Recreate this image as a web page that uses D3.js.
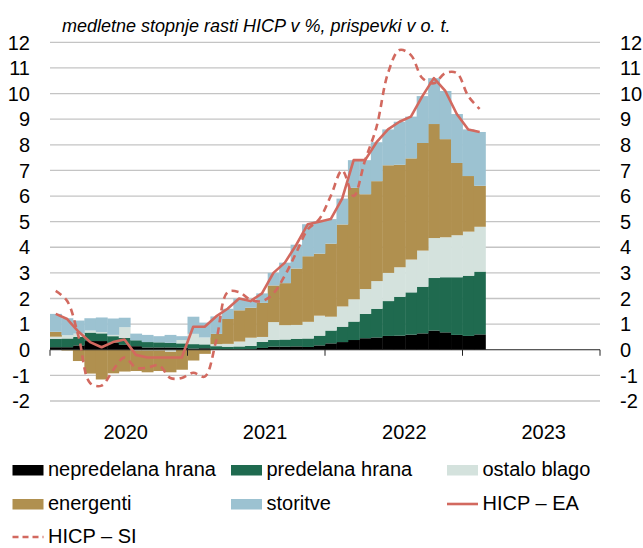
<!DOCTYPE html>
<html>
<head>
<meta charset="utf-8">
<script src="https://cdn.jsdelivr.net/npm/d3@7"></script>
<style>
  body { margin: 0; background: #fff; }
  svg { font-family: "Liberation Sans", Arial, sans-serif; }
</style>
</head>
<body>
<div id="chart"></div>
<script>
// mesecni podatki jan 2020 - feb 2023, prispevki v o. t.
var years = ["2020", "2021", "2022", "2023"];
var yTicks = [-2, -1, 0, 1, 2, 3, 4, 5, 6, 7, 8, 9, 10, 11, 12];

var nepredelana = [0.10,0.10,0.17,0.34,0.34,0.27,0.19,0.14,0.09,0.09,0.09,0.08,
  0.05,0.06,0.01,0.00,0.01,0.02,0.07,0.12,0.12,0.13,0.11,0.17,
  0.25,0.30,0.38,0.45,0.48,0.54,0.55,0.59,0.64,0.75,0.68,0.58,
  0.54,0.60];
var predelana = [0.33,0.34,0.33,0.33,0.30,0.26,0.27,0.23,0.21,0.20,0.18,0.17,
  0.17,0.15,0.13,0.12,0.12,0.13,0.24,0.26,0.28,0.30,0.33,0.38,
  0.50,0.60,0.72,0.95,1.12,1.36,1.52,1.65,1.82,2.05,2.15,2.25,
  2.35,2.45];
var ostalo = [0.08,0.13,0.13,0.08,0.05,0.05,0.42,-0.03,-0.03,-0.03,-0.08,0.13,
  0.40,0.27,0.08,0.11,0.19,0.32,0.19,0.70,0.56,0.54,0.65,0.78,
  0.54,0.79,0.87,0.97,1.08,1.10,1.15,1.28,1.41,1.56,1.56,1.64,
  1.72,1.75];
var energenti = [0.19,-0.03,-0.44,-0.93,-1.16,-0.92,-0.85,-0.80,-0.85,-0.80,-0.80,-0.78,
  -0.42,-0.16,0.40,0.97,1.22,1.17,1.33,1.43,1.64,2.20,2.56,2.42,
  2.85,3.20,4.35,3.70,3.90,4.20,4.00,3.95,4.20,4.45,3.83,2.82,
  2.17,1.60];
var storitve = [0.70,0.66,0.51,0.48,0.57,0.64,0.37,0.26,0.28,0.24,0.31,0.15,
  0.67,0.58,0.68,0.40,0.46,0.26,0.37,0.49,0.80,0.93,1.25,1.25,
  0.96,1.01,1.08,1.33,1.52,1.40,1.68,1.63,1.83,1.79,1.88,1.91,
  1.82,2.10];
var hicpEA = [1.4,1.2,0.7,0.3,0.1,0.3,0.4,-0.2,-0.3,-0.3,-0.3,-0.3,
  0.9,0.9,1.3,1.6,2.0,1.9,2.2,3.0,3.4,4.1,4.9,5.0,
  5.1,5.9,7.4,7.4,8.1,8.6,8.9,9.1,9.9,10.6,10.1,9.2,
  8.6,8.5];
var hicpSI = [2.3,1.9,0.5,-1.3,-1.4,-0.8,-0.3,-0.7,-0.7,-0.6,-1.1,-1.1,
  -0.9,-1.05,0.35,2.25,2.25,1.95,1.9,2.2,2.9,3.8,4.7,5.1,
  6.0,7.0,6.0,7.4,8.7,10.8,11.7,11.5,10.6,10.4,10.8,10.8,
  9.9,9.4];

var keys = ["nepredelana", "predelana", "ostalo", "energenti", "storitve"];
var names = {nepredelana: "nepredelana hrana", predelana: "predelana hrana",
  ostalo: "ostalo blago", energenti: "energenti", storitve: "storitve"};
var colors = {nepredelana: "#000000", predelana: "#1f6a4f", ostalo: "#d4e2dd",
  energenti: "#b0904f", storitve: "#9cc2d1"};
var lineColor = "#d2695f";

var width = 643,
    height = 548;

var rows = hicpEA.map(function(v, i) {
  return {i: i, nepredelana: nepredelana[i], predelana: predelana[i], ostalo: ostalo[i],
    energenti: energenti[i], storitve: storitve[i], ea: v, si: hicpSI[i]};
});

var svg = d3.select("#chart")
  .append("svg")
    .attr("width", width)
    .attr("height", height);

var x = d3.scaleBand()
  .domain(d3.range(years.length * 12))
  .range([50, 600])
  .padding(0);

var y = d3.scaleLinear()
  .domain([-2, 12])
  .range([401, 42.3]);

// mreza
svg.append("g")
  .selectAll("line")
  .data(yTicks.filter(function(d){ return d !== 0; }))
  .enter()
  .append("line")
    .attr("x1", 50)
    .attr("x2", 600)
    .attr("y1", function(d){ return y(d); })
    .attr("y2", function(d){ return y(d); })
    .attr("stroke", "#c4c4c4")
    .attr("stroke-width", 1.3);

// stolpci
var series = d3.stack()
  .keys(keys)
  .offset(d3.stackOffsetDiverging)(rows);

svg.append("g")
  .selectAll("g")
  .data(series)
  .enter()
  .append("g")
    .attr("fill", function(d){ return colors[d.key]; })
  .selectAll("rect")
  .data(function(d){ return d; })
  .enter()
  .append("rect")
    .attr("x", function(d){ return x(d.data.i); })
    .attr("width", x.bandwidth() + 0.4)
    .attr("y", function(d){ return y(Math.max(d[0], d[1])); })
    .attr("height", function(d){ return Math.abs(y(d[0]) - y(d[1])); });

// os x
var y0 = y(0);
svg.append("line")
  .attr("x1", 50).attr("x2", 600)
  .attr("y1", y0).attr("y2", y0)
  .attr("stroke", "#222")
  .attr("stroke-width", 1);

svg.append("g")
  .selectAll("line")
  .data([0, 12, 24, 36, 48])
  .enter()
  .append("line")
    .attr("x1", function(d){ return d < 48 ? x(d) : x(47) + x.bandwidth(); })
    .attr("x2", function(d){ return d < 48 ? x(d) : x(47) + x.bandwidth(); })
    .attr("y1", y0)
    .attr("y2", y0 + 6)
    .attr("stroke", "#222")
    .attr("stroke-width", 1);

svg.append("g")
  .selectAll("text")
  .data(years)
  .enter()
  .append("text")
    .attr("x", function(d, i){ return x(i * 12) + 6 * x.bandwidth() + 7 + i * 1.8; })
    .attr("y", 439)
    .attr("text-anchor", "middle")
    .attr("font-size", 20)
    .text(function(d){ return d; });

// osi y levo in desno
svg.append("g")
  .selectAll("text")
  .data(yTicks)
  .enter()
  .append("text")
    .attr("x", 30)
    .attr("y", function(d){ return y(d); })
    .attr("dy", "0.36em")
    .attr("text-anchor", "end")
    .attr("font-size", 20)
    .text(function(d){ return d; });

svg.append("g")
  .selectAll("text")
  .data(yTicks)
  .enter()
  .append("text")
    .attr("x", 620)
    .attr("y", function(d){ return y(d); })
    .attr("dy", "0.36em")
    .attr("text-anchor", "start")
    .attr("font-size", 20)
    .text(function(d){ return d; });

// crte
var cx = function(d){ return x(d.i) + x.bandwidth() / 2; };

svg.append("path")
  .datum(rows)
  .attr("fill", "none")
  .attr("stroke", lineColor)
  .attr("stroke-width", 2.6)
  .attr("stroke-linejoin", "round")
  .attr("d", d3.line().x(cx).y(function(d){ return y(d.ea); }));

svg.append("path")
  .datum(rows)
  .attr("fill", "none")
  .attr("stroke", lineColor)
  .attr("stroke-width", 2.6)
  .attr("stroke-dasharray", "7,5")
  .attr("d", d3.line().curve(d3.curveCatmullRom.alpha(0.5)).x(cx).y(function(d){ return y(d.si); }));

// naslov
svg.append("text")
  .attr("x", 62)
  .attr("y", 32)
  .attr("font-size", 18)
  .attr("font-style", "italic")
  .text("medletne stopnje rasti HICP v %, prispevki v o. t.");

// legenda
var legend = [
  {name: names.nepredelana, type: "box", color: colors.nepredelana, col: 0, row: 0},
  {name: names.predelana, type: "box", color: colors.predelana, col: 1, row: 0},
  {name: names.ostalo, type: "box", color: colors.ostalo, col: 2, row: 0},
  {name: names.energenti, type: "box", color: colors.energenti, col: 0, row: 1},
  {name: names.storitve, type: "box", color: colors.storitve, col: 1, row: 1},
  {name: "HICP – EA", type: "line", color: lineColor, col: 2, row: 1},
  {name: "HICP – SI", type: "dash", color: lineColor, col: 0, row: 2}
];
var colX = [12.5, 231, 447];
var rowY = [476, 510, 543];

var leg = svg.append("g")
  .selectAll("g")
  .data(legend)
  .enter()
  .append("g")
    .attr("transform", function(d){ return "translate(" + colX[d.col] + "," + rowY[d.row] + ")"; });

leg.filter(function(d){ return d.type === "box"; })
  .append("rect")
    .attr("x", 0).attr("y", -11)
    .attr("width", 31).attr("height", 10.5)
    .attr("fill", function(d){ return d.color; });

leg.filter(function(d){ return d.type !== "box"; })
  .append("line")
    .attr("x1", 0).attr("x2", 31)
    .attr("y1", -6).attr("y2", -6)
    .attr("stroke", function(d){ return d.color; })
    .attr("stroke-width", 2.6)
    .attr("stroke-dasharray", function(d){ return d.type === "dash" ? "6,4" : null; });

leg.append("text")
  .attr("x", 35.5)
  .attr("y", 0)
  .attr("font-size", 20)
  .text(function(d){ return d.name; });
</script>
</body>
</html>
